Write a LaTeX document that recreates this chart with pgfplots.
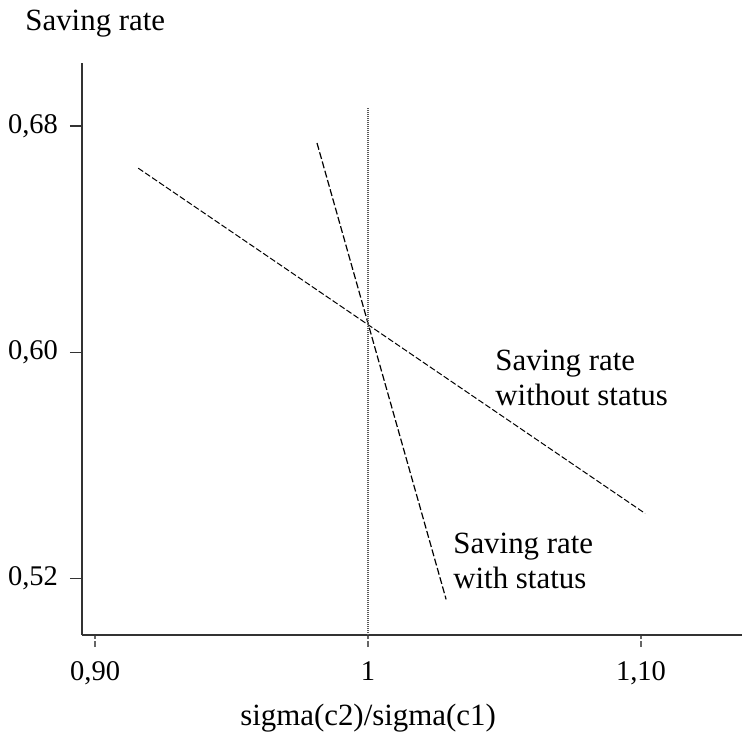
\documentclass[border=0pt]{standalone}
\usepackage{fontspec}
\setmainfont{Liberation Serif}
\usepackage{pgfplots}
\pgfplotsset{compat=1.18}
\begin{document}
\begin{tikzpicture}
\begin{axis}[
  scale only axis,
  width=330bp, height=286bp,
  xmin=0.8952, xmax=1.137,
  ymin=0.50, ymax=0.7023,
  axis x line*=bottom, axis y line*=left,
  axis line style={black!80, line width=0.9bp},
  xtick={0.90,1,1.10}, xticklabels={{0,90},{1},{1,10}},
  ytick={0.52,0.60,0.68}, yticklabels={{0,52},{0,60},{0,68}},
  tick align=outside,
  major tick length=6bp,
  ytick style={black!80, line width=0.6bp},
  xtick style={black!60, line width=0.7bp, dash pattern=on 3bp off 1bp},
  ticklabel style={font=\fontsize{14.3}{17}\selectfont},
  yticklabel style={anchor=east, xshift=-2.5bp},
  xticklabel style={anchor=north, yshift=-4bp},
  clip=false,
]
\addplot[black, line width=0.5bp, dash pattern=on 3bp off 1.2bp] coordinates {(0.9158,0.6651) (1.1015,0.5430)};
\addplot[black, line width=0.6bp, dash pattern=on 3.5bp off 1.3bp] coordinates {(0.9813,0.6740) (1.0286,0.5126)};
\addplot[black!65, line width=0.9bp, dash pattern=on 0.6bp off 0.4bp] coordinates {(1,0.50) (1,0.6864)};
\node[anchor=base west, font=\fontsize{15.5}{18}\selectfont, inner sep=0] at (axis cs:1.0465,0.5936) {Saving rate};
\node[anchor=base west, font=\fontsize{15.5}{18}\selectfont, inner sep=0] at (axis cs:1.0465,0.5812) {without status};
\node[anchor=base west, font=\fontsize{15.5}{18}\selectfont, inner sep=0] at (axis cs:1.0311,0.5288) {Saving rate};
\node[anchor=base west, font=\fontsize{15.5}{18}\selectfont, inner sep=0] at (axis cs:1.0311,0.5165) {with status};
\node[anchor=base west, font=\fontsize{15.5}{18}\selectfont, inner sep=0] at ([shift={(-28.5bp,16bp)}]rel axis cs:0,1) {Saving rate};
\node[anchor=base, font=\fontsize{15.5}{18}\selectfont, inner sep=0] at ([shift={(0bp,-45bp)}]axis cs:1,0.50) {sigma(c2)/sigma(c1)};
\coordinate (BB1) at ([shift={(-41bp,-53.5bp)}]rel axis cs:0,0);
\coordinate (BB2) at ([shift={(0.5bp,31.5bp)}]rel axis cs:1,1);
\end{axis}
\pgfresetboundingbox
\path[use as bounding box] (BB1) rectangle (BB2);
\end{tikzpicture}
\end{document}
